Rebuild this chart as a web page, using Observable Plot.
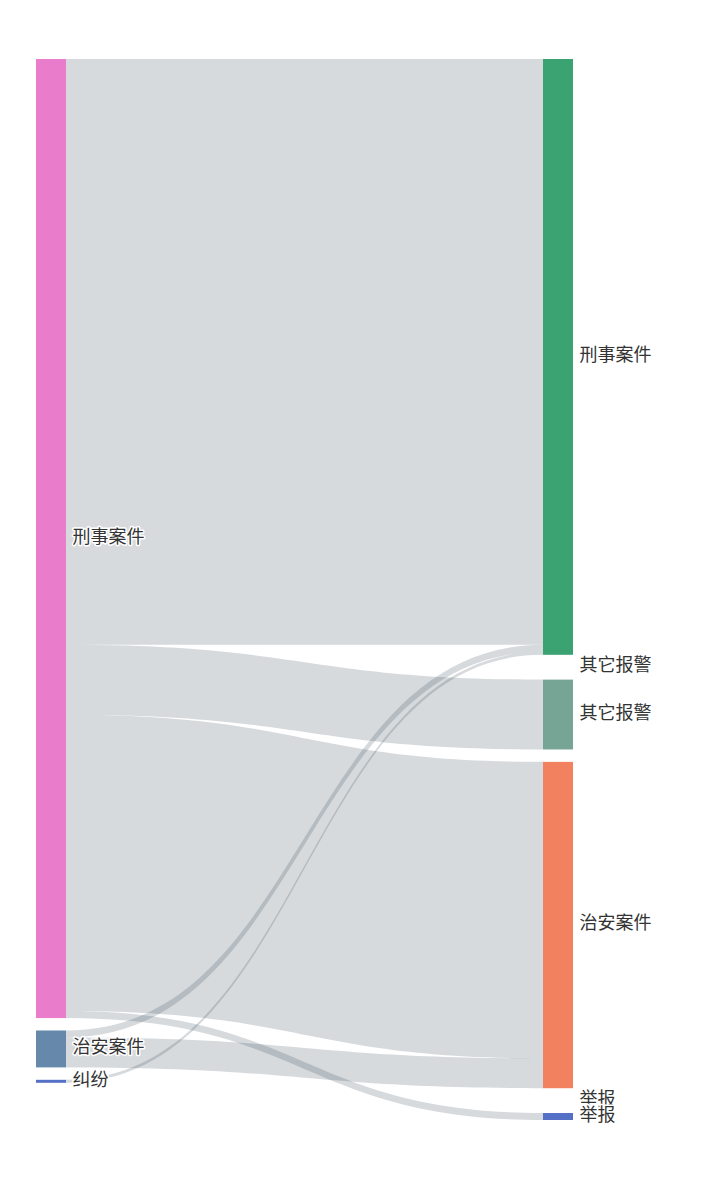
<!DOCTYPE html>
<html><head><meta charset="utf-8">
<script src="https://cdn.jsdelivr.net/npm/d3@7"></script>
<script src="https://cdn.jsdelivr.net/npm/@observablehq/plot@0.6"></script>
<style>body{margin:0;background:#fff}</style>
</head><body><div id="chart"></div>
<script>
// Nodes (left column = source, right column = target)
const leftNodes = ["刑事案件", "治安案件", "纠纷"];
const rightNodes = ["刑事案件", "其它报警", "其它报警", "治安案件", "举报", "举报"];
const leftColors = ["#ea7ccc", "#6689ab", "#5470c6"];
const rightColors = ["#3ba272", "#91cc75", "#77a595", "#f2815f", "#fac858", "#5470c6"];

// Links
const linkSource = [0, 0, 0, 0, 1, 1, 2];
const linkTarget = [0, 2, 3, 5, 0, 3, 0];
const linkValue = [587, 70, 297, 7, 7, 30, 3];

// Layout constants
const W = 715, H = 1179, MT = 59, MB = 59, ML = 36, MR = 142, NODE_W = 30, GAP = 12.4;
const innerH = H - MT - MB;

const leftVal = leftNodes.map((_, i) => d3.sum(linkValue.filter((v, k) => linkSource[k] === i)));
const rightVal = rightNodes.map((_, j) => d3.sum(linkValue.filter((v, k) => linkTarget[k] === j)));
const ky = Math.min(
  (innerH - (leftNodes.length - 1) * GAP) / d3.sum(leftVal),
  (innerH - (rightNodes.length - 1) * GAP) / d3.sum(rightVal)
);
const gapU = GAP / ky;
const yMax = innerH / ky;
const nw = NODE_W / (W - ML - MR);

function stack(vals) {
  let c = 0;
  return vals.map(v => { const r = [c, c + v]; c += v + gapU; return r; });
}
const leftPos = stack(leftVal);
const rightPos = stack(rightVal);

const nodes = [
  ...leftNodes.map((name, i) => ({name, x1: 0, x2: nw, y1: leftPos[i][0], y2: leftPos[i][1], color: leftColors[i], side: "L"})),
  ...rightNodes.map((name, j) => ({name, x1: 1 - nw, x2: 1, y1: rightPos[j][0], y2: rightPos[j][1], color: rightColors[j], side: "R"}))
];

// link positions
const idx = linkValue.map((_, k) => k);
const sy = {}, ty = {};
leftNodes.forEach((_, i) => {
  let c = leftPos[i][0];
  idx.filter(k => linkSource[k] === i).sort((a, b) => linkTarget[a] - linkTarget[b])
    .forEach(k => { sy[k] = [c, c + linkValue[k]]; c += linkValue[k]; });
});
rightNodes.forEach((_, j) => {
  let c = rightPos[j][0];
  idx.filter(k => linkTarget[k] === j).sort((a, b) => linkSource[a] - linkSource[b])
    .forEach(k => { ty[k] = [c, c + linkValue[k]]; c += linkValue[k]; });
});
const linkRows = idx.flatMap(k => [
  {id: k, x: nw, y1: sy[k][0], y2: sy[k][1]},
  {id: k, x: 1 - nw, y1: ty[k][0], y2: ty[k][1]}
]);

const chart = Plot.plot({
  width: W, height: H,
  marginTop: MT, marginBottom: MB, marginLeft: ML, marginRight: MR,
  style: {fontFamily: "'Noto Sans CJK SC', sans-serif", background: "#fff"},
  x: {domain: [0, 1], axis: null},
  y: {domain: [0, yMax], reverse: true, axis: null},
  marks: [
    Plot.areaY(linkRows, {x: "x", y1: "y1", y2: "y2", z: "id", curve: "bump-x", fill: "#314656", fillOpacity: 0.2}),
    Plot.rect(nodes, {x1: "x1", x2: "x2", y1: "y1", y2: "y2", fill: d => d.color}),
    Plot.text(nodes, {
      x: "x2", y: d => (d.y1 + d.y2) / 2, text: "name",
      textAnchor: "start", dx: 6, dy: -2, fontSize: 18, fill: "#333",
      stroke: "white", strokeWidth: 3
    })
  ]
});
document.getElementById("chart").appendChild(chart);
</script>
</body></html>
